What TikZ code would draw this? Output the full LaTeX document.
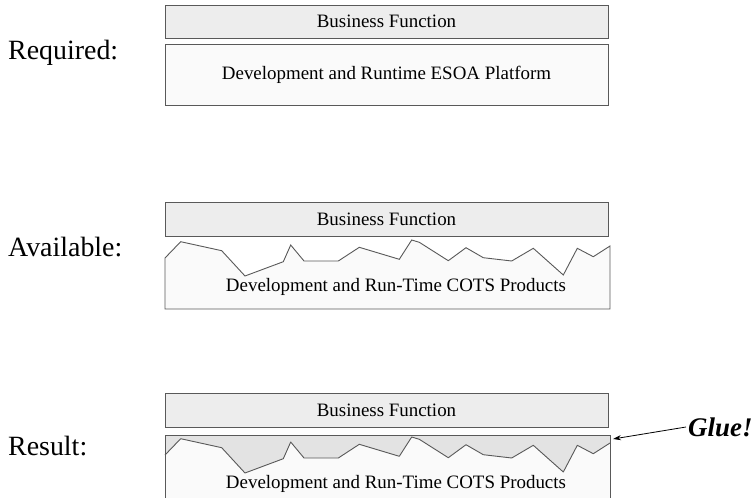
\documentclass[tikz,border=0pt]{standalone}
\usepackage{fontspec}
\setmainfont{Liberation Serif}
\usetikzlibrary{arrows.meta}
\begin{document}
\begin{tikzpicture}[x=1bp,y=-1bp,
  bfbox/.style={draw=black!65, fill=black!7, line width=0.9bp, minimum width=443bp, inner sep=0, font=\fontsize{19}{22}\selectfont},
  platbox/.style={draw=black!65, fill=black!2, line width=0.9bp},
  gluefill/.style={fill=black!11},
  jagline/.style={draw=black!65, line width=0.9bp, line join=round},
  lbl/.style={font=\fontsize{28}{32}\selectfont, anchor=base west, inner sep=0},
  boxtext/.style={font=\fontsize{19}{22}\selectfont, inner sep=0},
]
\useasboundingbox (0,0) rectangle (755,498);
\def\jagpts{(180.7,241.7) -- (221.7,250.7) -- (245,276) -- (283.3,261.7) -- (290.7,245) -- (304,261) -- (338.3,261) -- (359.3,247.3) -- (399.3,259.3) -- (411.7,240) -- (419.3,242.3) -- (448.3,260.7) -- (466,247.7) -- (483.3,257.7) -- (511.7,261) -- (533.3,248.3) -- (563.3,275) -- (577.3,248.3) -- (593.3,256.7)}

% Required
\node[lbl] (req) at (8,60) {Required:};
\node[bfbox, minimum height=33bp] (bf1) at (386.5,21.5) {Business Function};
\node[bfbox, fill=black!2, minimum height=61bp] (esoa) at (386.5,74.5) {Development and Runtime ESOA Platform};

% Available
\node[lbl] (avail) at (8,257) {Available:};
\node[bfbox, minimum height=34bp] (bf2) at (386.5,219) {Business Function};
\path[platbox] (165,309) -- (165,258) -- \jagpts -- (610,246) -- (610,309) -- cycle;
\node[boxtext] (cots2) at (396,287) {Development and Run-Time COTS Products};

% Result
\node[lbl] (res) at (8,455) {Result:};
\node[bfbox, minimum height=34bp] (bf3) at (386.5,410) {Business Function};
\fill[black!2] (165,435) rectangle (610,498);
\begin{scope}[yshift=-197bp]
  \path[gluefill] (165,238) -- (165,258) -- \jagpts -- (610,246) -- (610,238) -- cycle;
  \path[jagline] (165,258) -- \jagpts -- (610,246);
\end{scope}
\draw[black!65, line width=0.9bp] (165,499) -- (165,435) -- (610,435) -- (610,499);
\node[boxtext] (cots3) at (396,484) {Development and Run-Time COTS Products};

% Glue
\node[font=\fontsize{27}{30}\selectfont\bfseries\itshape, anchor=west, inner sep=0] (glue) at (688,427) {Glue!};
\coordinate (gluetip) at (613,439);
\draw[-{Stealth[length=8bp,width=5bp]}, line width=0.8bp] ([xshift=-2bp]glue.west) -- (gluetip);
\end{tikzpicture}
\end{document}
